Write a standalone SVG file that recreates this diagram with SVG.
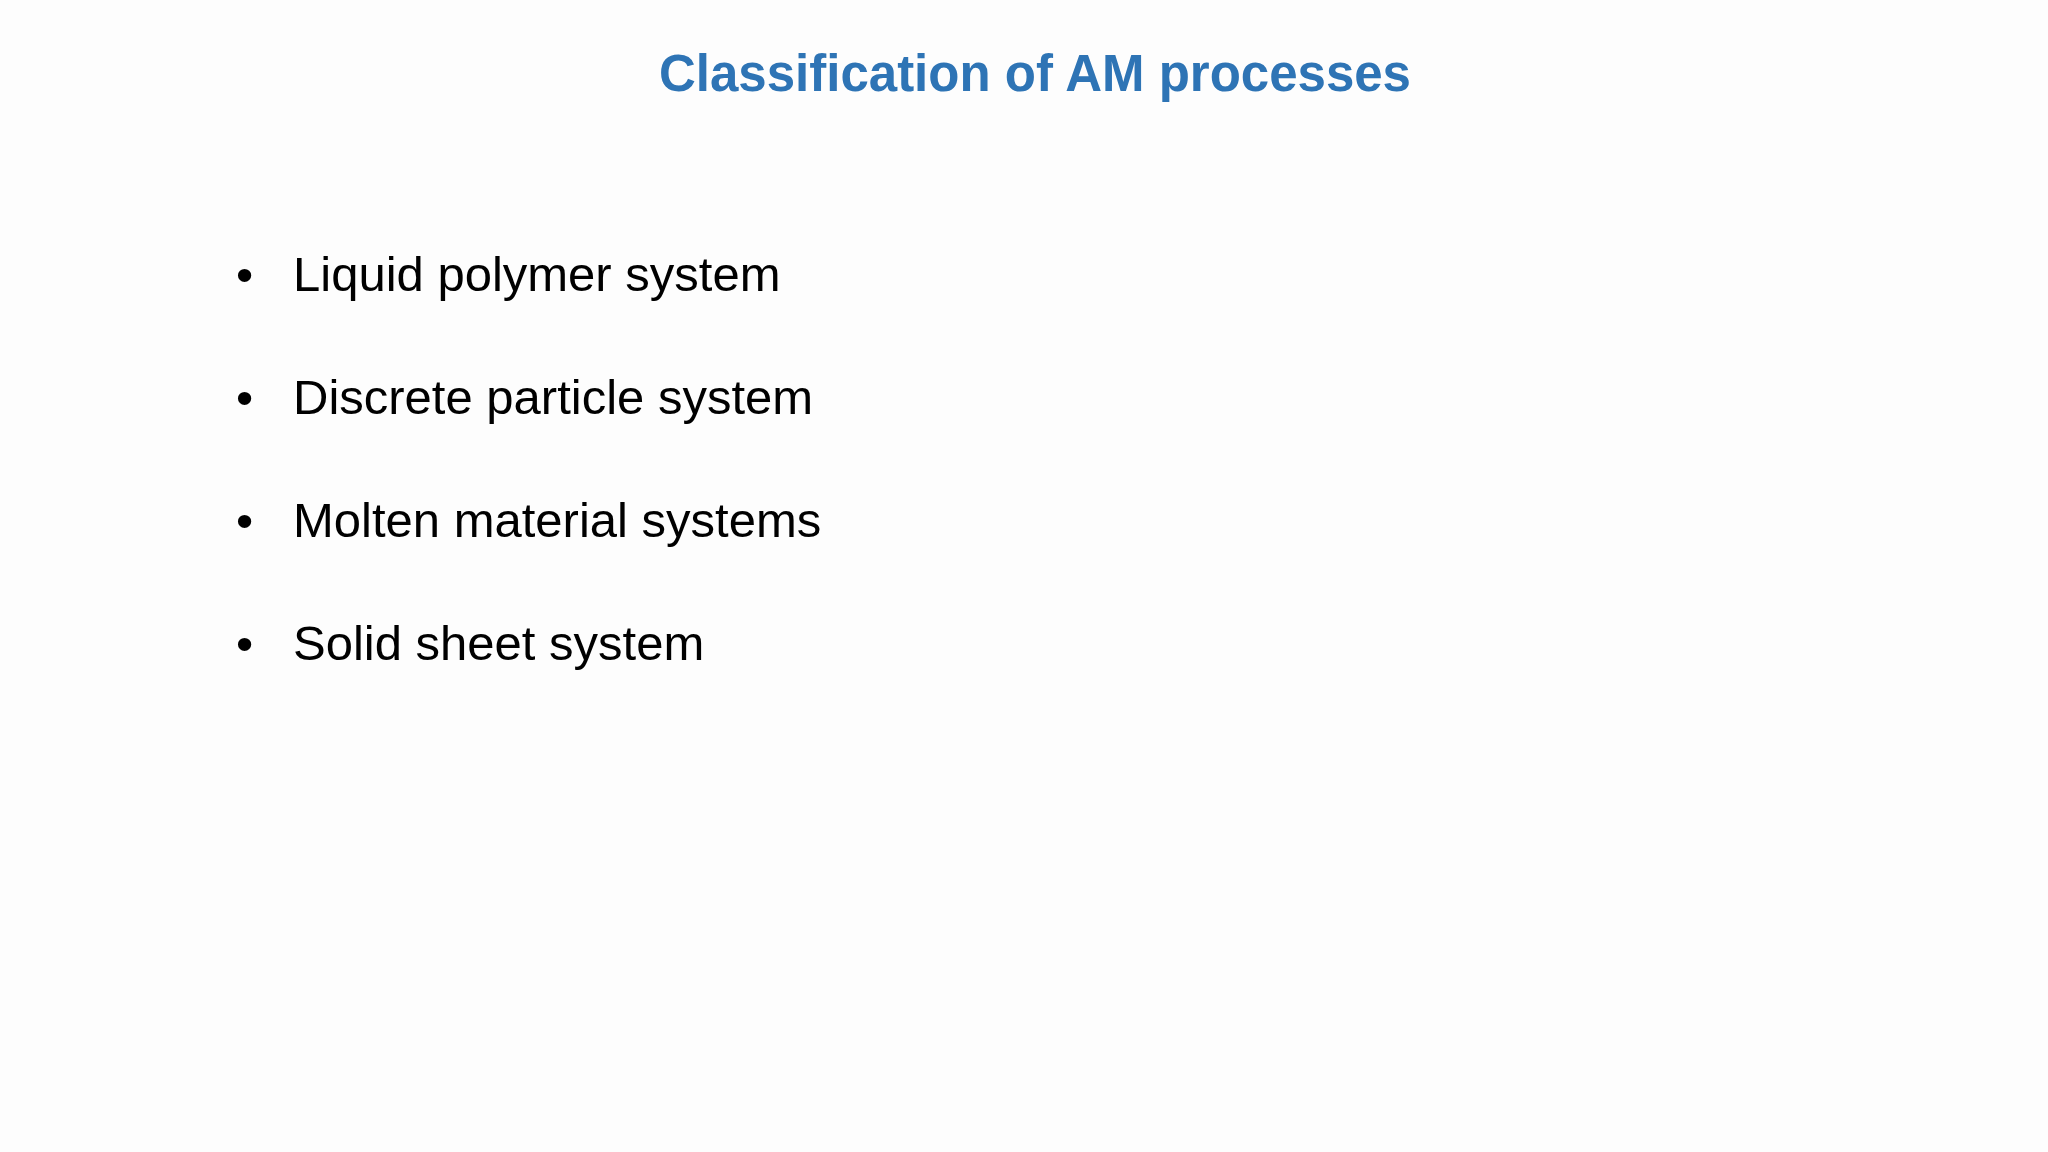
<svg xmlns="http://www.w3.org/2000/svg" width="2048" height="1152" viewBox="0 0 2048 1152">
<style>
.t{font-family:"Liberation Sans",Arial,sans-serif;font-size:49px;fill:#000}
.h{font-family:"Liberation Sans",Arial,sans-serif;font-size:51px;font-weight:bold;fill:#2E74B5}
</style>
<rect width="2048" height="1152" fill="#fdfdfd"/>
<text class="h" x="1035" y="91" text-anchor="middle">Classification of AM processes</text>
<g id="item1"><text class="t" x="236" y="291">•</text><text class="t" x="293" y="291">Liquid polymer system</text></g>
<g id="item2"><text class="t" x="236" y="414">•</text><text class="t" x="293" y="414">Discrete particle system</text></g>
<g id="item3"><text class="t" x="236" y="537">•</text><text class="t" x="293" y="537">Molten material systems</text></g>
<g id="item4"><text class="t" x="236" y="660">•</text><text class="t" x="293" y="660">Solid sheet system</text></g>
</svg>
